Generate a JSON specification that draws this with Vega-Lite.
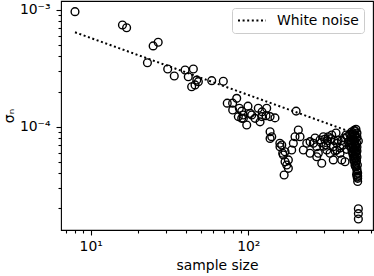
{
  "$schema": "https://vega.github.io/schema/vega-lite/v6.json",
  "width": 312,
  "height": 229,
  "autosize": {"type": "none"},
  "padding": {"left": 61, "top": 1, "right": 1, "bottom": 46},
  "config": {
    "font": "DejaVu Sans",
    "view": {"stroke": "black", "strokeWidth": 1.1},
    "axis": {"grid": false, "domain": false, "tickColor": "black", "tickWidth": 1.1, "labelColor": "black", "titleColor": "black", "labelFontSize": 13.9, "titleFontSize": 13.9, "titleFontWeight": "normal"},
    "legend": {"labelFontSize": 13.9, "labelColor": "black"}
  },
  "datasets": {
    "pts": [
      {"n": 7.95, "sigma": 9.67e-4}, {"n": 15.9, "sigma": 7.44e-4}, {"n": 16.9, "sigma": 7.05e-4},
      {"n": 22.9, "sigma": 3.53e-4}, {"n": 24.9, "sigma": 4.92e-4}, {"n": 26.8, "sigma": 5.29e-4},
      {"n": 30.8, "sigma": 3.12e-4}, {"n": 33.9, "sigma": 2.72e-4}, {"n": 39.7, "sigma": 3.06e-4},
      {"n": 44.8, "sigma": 3.12e-4}, {"n": 41.6, "sigma": 2.68e-4}, {"n": 43.7, "sigma": 2.20e-4},
      {"n": 45.9, "sigma": 2.28e-4}, {"n": 47.1, "sigma": 2.51e-4}, {"n": 48.2, "sigma": 2.43e-4},
      {"n": 58.6, "sigma": 2.48e-4}, {"n": 69.4, "sigma": 2.45e-4}, {"n": 73.5, "sigma": 1.59e-4},
      {"n": 79.5, "sigma": 1.59e-4}, {"n": 84.4, "sigma": 1.75e-4}, {"n": 87.7, "sigma": 1.44e-4},
      {"n": 90.8, "sigma": 1.36e-4}, {"n": 86.4, "sigma": 1.22e-4}, {"n": 90.8, "sigma": 1.18e-4},
      {"n": 93.0, "sigma": 1.26e-4}, {"n": 97.7, "sigma": 1.035e-4}, {"n": 105.1, "sigma": 1.26e-4},
      {"n": 110.3, "sigma": 1.18e-4}, {"n": 115.7, "sigma": 1.44e-4}, {"n": 118.7, "sigma": 1.10e-4},
      {"n": 121.6, "sigma": 1.22e-4}, {"n": 130.8, "sigma": 1.44e-4}, {"n": 129.5, "sigma": 1.24e-4},
      {"n": 137.4, "sigma": 1.22e-4}, {"n": 147.6, "sigma": 1.19e-4}, {"n": 137.4, "sigma": 9.05e-5},
      {"n": 137.4, "sigma": 7.94e-5}, {"n": 158.8, "sigma": 6.74e-5}, {"n": 165.2, "sigma": 5.92e-5},
      {"n": 171, "sigma": 5.01e-5}, {"n": 168.7, "sigma": 3.86e-5}, {"n": 179.5, "sigma": 4.40e-5},
      {"n": 102.9, "sigma": 1.30e-4}, {"n": 93, "sigma": 1.18e-4}, {"n": 79.6, "sigma": 1.39e-4},
      {"n": 99.5, "sigma": 1.50e-4}, {"n": 122.2, "sigma": 1.34e-4}, {"n": 201, "sigma": 1.36e-4},
      {"n": 140.8, "sigma": 8.21e-5}, {"n": 163, "sigma": 6.97e-5}, {"n": 171, "sigma": 6.10e-5},
      {"n": 166.7, "sigma": 5.72e-5}, {"n": 175.3, "sigma": 4.70e-5}, {"n": 179.5, "sigma": 5.19e-5},
      {"n": 193, "sigma": 7.21e-5}, {"n": 188.4, "sigma": 6.31e-5}, {"n": 197.8, "sigma": 8.21e-5},
      {"n": 207.6, "sigma": 9.37e-5}, {"n": 212.8, "sigma": 8.21e-5}, {"n": 223.4, "sigma": 6.31e-5},
      {"n": 234.8, "sigma": 7.21e-5}, {"n": 246.4, "sigma": 7.44e-5}, {"n": 258.5, "sigma": 7.21e-5},
      {"n": 271.6, "sigma": 6.74e-5}, {"n": 278, "sigma": 5.92e-5}, {"n": 292.3, "sigma": 4.86e-5},
      {"n": 299.2, "sigma": 8.21e-5}, {"n": 321.8, "sigma": 8.21e-5}, {"n": 338.2, "sigma": 8.49e-5},
      {"n": 314.5, "sigma": 6.31e-5}, {"n": 330, "sigma": 5.92e-5}, {"n": 346, "sigma": 6.74e-5},
      {"n": 363.8, "sigma": 6.31e-5}, {"n": 381.9, "sigma": 5.92e-5}, {"n": 391.4, "sigma": 5.19e-5},
      {"n": 410.9, "sigma": 5.01e-5}, {"n": 346, "sigma": 5.19e-5}, {"n": 271.6, "sigma": 5.53e-5},
      {"n": 246.4, "sigma": 5.92e-5}, {"n": 431, "sigma": 7.44e-5}, {"n": 285, "sigma": 7.69e-5},
      {"n": 311, "sigma": 6.97e-5}, {"n": 371, "sigma": 7.69e-5}, {"n": 399, "sigma": 6.97e-5},
      {"n": 360, "sigma": 8.84e-5}, {"n": 417, "sigma": 8.49e-5}, {"n": 382, "sigma": 6.57e-5},
      {"n": 158.5, "sigma": 7.21e-5},
      {"n": 265, "sigma": 8.0e-5}, {"n": 290, "sigma": 7.3e-5}, {"n": 305, "sigma": 7.8e-5},
      {"n": 318, "sigma": 7.6e-5}, {"n": 335, "sigma": 7.9e-5}, {"n": 350, "sigma": 7.6e-5},
      {"n": 365, "sigma": 7.2e-5}, {"n": 390, "sigma": 7.6e-5}, {"n": 405, "sigma": 8.0e-5},
      {"n": 425, "sigma": 8.2e-5}, {"n": 440, "sigma": 8.6e-5}, {"n": 300, "sigma": 6.8e-5},
      {"n": 355, "sigma": 6.2e-5}, {"n": 420, "sigma": 6.4e-5}, {"n": 436, "sigma": 6.9e-5},
      {"n": 475, "sigma": 9.19e-5}, {"n": 462, "sigma": 8.84e-5}, {"n": 489, "sigma": 8.84e-5},
      {"n": 475, "sigma": 8.49e-5}, {"n": 449, "sigma": 8.16e-5}, {"n": 489, "sigma": 8.16e-5},
      {"n": 462, "sigma": 7.85e-5}, {"n": 475, "sigma": 7.54e-5}, {"n": 499, "sigma": 7.54e-5},
      {"n": 449, "sigma": 7.25e-5}, {"n": 475, "sigma": 6.97e-5}, {"n": 462, "sigma": 6.70e-5},
      {"n": 489, "sigma": 6.70e-5}, {"n": 475, "sigma": 6.44e-5}, {"n": 455, "sigma": 6.19e-5},
      {"n": 489, "sigma": 6.19e-5}, {"n": 475, "sigma": 5.95e-5}, {"n": 462, "sigma": 5.72e-5},
      {"n": 489, "sigma": 5.50e-5}, {"n": 475, "sigma": 5.29e-5}, {"n": 469, "sigma": 5.08e-5},
      {"n": 482, "sigma": 4.89e-5}, {"n": 475, "sigma": 4.70e-5}, {"n": 482, "sigma": 4.52e-5},
      {"n": 489, "sigma": 4.35e-5}, {"n": 489, "sigma": 4.17e-5}, {"n": 494, "sigma": 4.01e-5},
      {"n": 494, "sigma": 3.78e-5}, {"n": 494, "sigma": 3.61e-5}, {"n": 494, "sigma": 3.39e-5},
      {"n": 452, "sigma": 9.0e-5}, {"n": 468, "sigma": 9.3e-5}, {"n": 482, "sigma": 9.5e-5},
      {"n": 458, "sigma": 8.6e-5}, {"n": 470, "sigma": 8.3e-5}, {"n": 484, "sigma": 8.0e-5},
      {"n": 446, "sigma": 7.7e-5}, {"n": 468, "sigma": 7.4e-5}, {"n": 486, "sigma": 7.3e-5},
      {"n": 456, "sigma": 7.0e-5}, {"n": 480, "sigma": 6.8e-5}, {"n": 450, "sigma": 6.6e-5},
      {"n": 468, "sigma": 6.3e-5}, {"n": 482, "sigma": 6.1e-5}, {"n": 458, "sigma": 6.0e-5},
      {"n": 470, "sigma": 5.6e-5}, {"n": 484, "sigma": 5.8e-5}, {"n": 478, "sigma": 5.4e-5},
      {"n": 466, "sigma": 5.3e-5}, {"n": 486, "sigma": 5.1e-5}, {"n": 478, "sigma": 4.6e-5},
      {"n": 492, "sigma": 4.7e-5}, {"n": 486, "sigma": 3.9e-5}, {"n": 490, "sigma": 3.7e-5},
      {"n": 499, "sigma": 1.98e-5}, {"n": 499, "sigma": 1.80e-5}, {"n": 499, "sigma": 1.62e-5}
    ],
    "line": [
      {"n": 7.95, "sigma": 6.44e-4, "label": "White noise"},
      {"n": 453, "sigma": 8.95e-5, "label": "White noise"}
    ]
  },
  "resolve": {"axis": {"x": "independent", "y": "independent"}},
  "layer": [
    {
      "data": {"name": "pts"},
      "mark": {"type": "point", "shape": "circle", "filled": false, "stroke": "black", "strokeWidth": 1.4, "size": 60, "opacity": 1},
      "encoding": {
        "x": {"field": "n", "type": "quantitative", "scale": {"type": "log", "domain": [6.48, 618], "nice": false},
          "axis": {"orient": "bottom", "values": [10, 100], "labelExpr": "datum.value < 50 ? '10¹' : '10²'", "tickSize": 5, "labelPadding": 4, "title": "sample size", "titlePadding": 6}},
        "y": {"field": "sigma", "type": "quantitative", "scale": {"type": "log", "domain": [1.303e-5, 1.194e-3], "nice": false},
          "axis": {"orient": "left", "values": [0.0001, 0.001], "labelExpr": "datum.value < 0.0005 ? '10⁻⁴' : '10⁻³'", "tickSize": 5, "labelPadding": 6, "title": "σₙ", "titlePadding": 3}}
      }
    },
    {
      "data": {"name": "line"},
      "mark": {"type": "line", "strokeDash": [2, 2.6], "strokeWidth": 2, "strokeCap": "butt"},
      "encoding": {
        "x": {"field": "n", "type": "quantitative",
          "axis": {"orient": "bottom", "values": [7, 8, 9, 20, 30, 40, 50, 60, 70, 80, 90, 200, 300, 400, 500, 600], "labels": false, "tickSize": 3, "title": null}},
        "y": {"field": "sigma", "type": "quantitative",
          "axis": {"orient": "left", "values": [2e-5, 3e-5, 4e-5, 5e-5, 6e-5, 7e-5, 8e-5, 9e-5, 2e-4, 3e-4, 4e-4, 5e-4, 6e-4, 7e-4, 8e-4, 9e-4], "labels": false, "tickSize": 3, "title": null}},
        "color": {"field": "label", "type": "nominal", "scale": {"range": ["black"]},
          "legend": {"title": null, "orient": "none", "legendX": 171, "legendY": 7, "symbolType": "stroke", "symbolStrokeWidth": 2, "symbolDash": [2, 2.6], "symbolSize": 784, "clipHeight": 15, "fillColor": "white", "strokeColor": "#cccccc", "cornerRadius": 3, "padding": 5, "labelOffset": 10}}
      }
    }
  ]
}
